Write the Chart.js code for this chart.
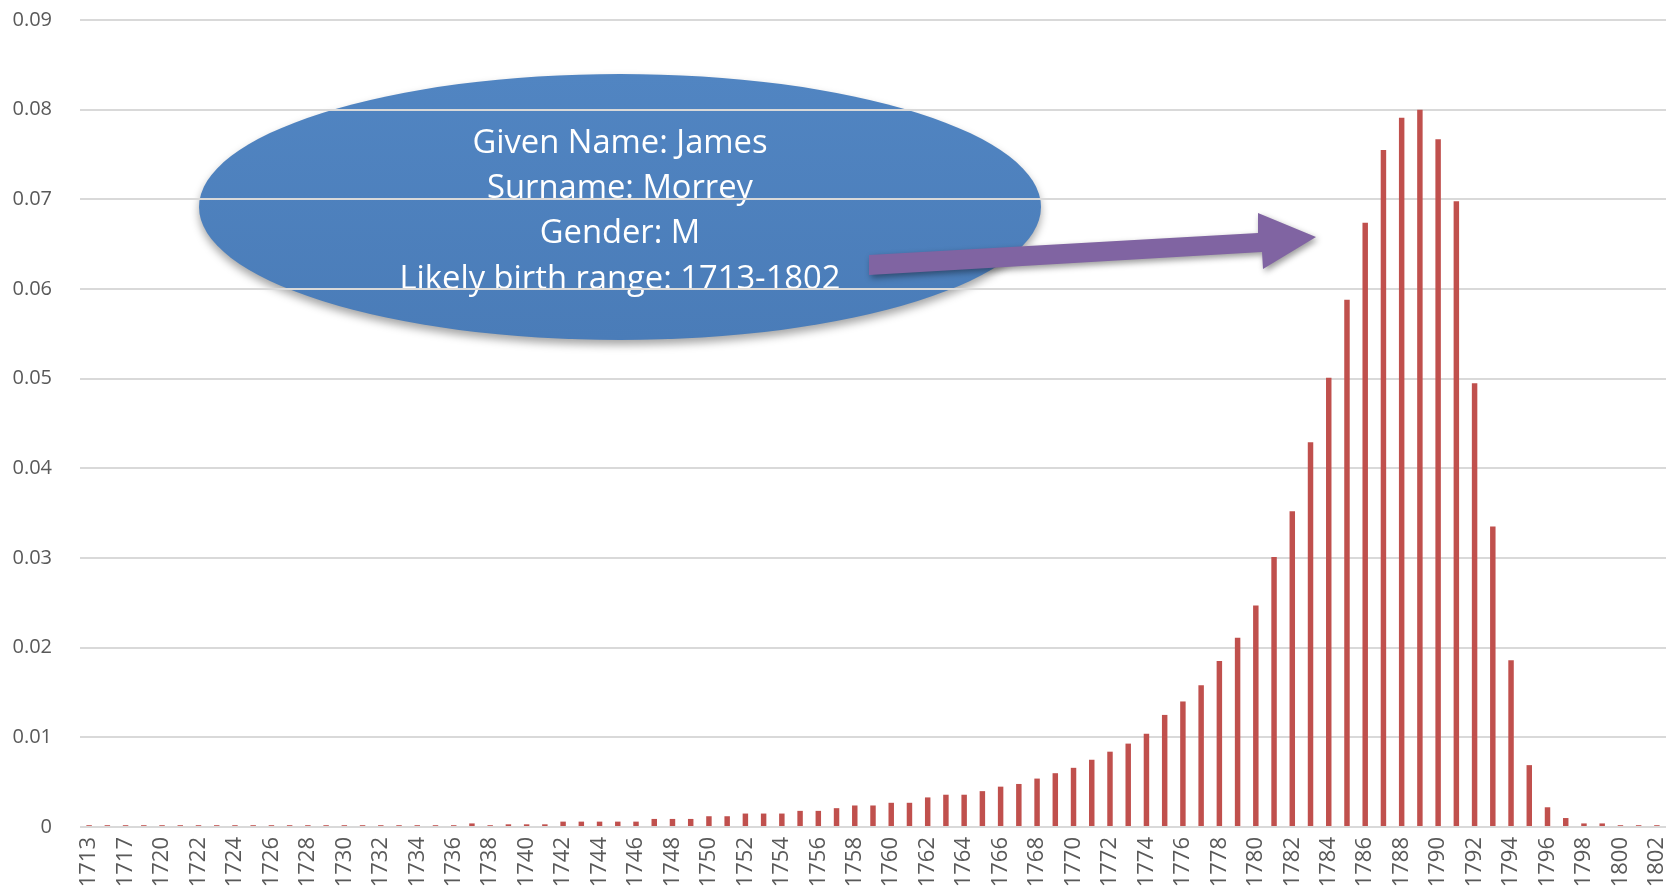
<!DOCTYPE html>
<html>
<head>
<meta charset="utf-8">
<script src="https://cdn.jsdelivr.net/npm/chart.js@4.4.1/dist/chart.umd.min.js"></script>
<style>
  html, body { margin: 0; padding: 0; background: #fff; overflow: hidden; }
  #wrap { width: 1666px; height: 892px; position: relative; }
</style>
</head>
<body>
<div id="wrap"><canvas id="birth-chart"></canvas></div>
<script>
// birth years (two early years are unlabelled in the source chart)
const years = [
  1713, 1715, 1717, 1719,
  1720, 1721, 1722, 1723, 1724, 1725, 1726, 1727, 1728, 1729,
  1730, 1731, 1732, 1733, 1734, 1735, 1736, 1737, 1738, 1739,
  1740, 1741, 1742, 1743, 1744, 1745, 1746, 1747, 1748, 1749,
  1750, 1751, 1752, 1753, 1754, 1755, 1756, 1757, 1758, 1759,
  1760, 1761, 1762, 1763, 1764, 1765, 1766, 1767, 1768, 1769,
  1770, 1771, 1772, 1773, 1774, 1775, 1776, 1777, 1778, 1779,
  1780, 1781, 1782, 1783, 1784, 1785, 1786, 1787, 1788, 1789,
  1790, 1791, 1792, 1793, 1794, 1795, 1796, 1797, 1798, 1799,
  1800, 1801, 1802
];

const probability = [
  0.0002, 0.0002, 0.0002, 0.0002,
  0.0002, 0.0002, 0.0002, 0.0002, 0.0002, 0.0002, 0.0002, 0.0002, 0.0002, 0.0002,
  0.0002, 0.0002, 0.0002, 0.0002, 0.0002, 0.0002, 0.0002, 0.0004, 0.0002, 0.0003,
  0.0003, 0.0003, 0.0006, 0.0006, 0.0006, 0.0006, 0.0006, 0.0009, 0.0009, 0.0009,
  0.0012, 0.0012, 0.0015, 0.0015, 0.0015, 0.0018, 0.0018, 0.0021, 0.0024, 0.0024,
  0.0027, 0.0027, 0.0033, 0.0036, 0.0036, 0.0040, 0.0045, 0.0048, 0.0054, 0.0060,
  0.0066, 0.0075, 0.0084, 0.0093, 0.0104, 0.0125, 0.0140, 0.0158, 0.0185, 0.0211,
  0.0247, 0.0301, 0.0352, 0.0429, 0.0501, 0.0588, 0.0674, 0.0755, 0.0791, 0.0800,
  0.0767, 0.0698, 0.0495, 0.0335, 0.0186, 0.0069, 0.0022, 0.0010, 0.0004, 0.0004,
  0.0002, 0.0002, 0.0002
];

const yTicks = [0, 0.01, 0.02, 0.03, 0.04, 0.05, 0.06, 0.07, 0.08, 0.09];

const calloutLines = [
  "Given Name: James",
  "Surname: Morrey",
  "Gender: M",
  "Likely birth range: 1713-1802"
];

// blue callout sits under the grid, so draw it first
const calloutPlugin = {
  id: "callout",
  beforeDraw(chart) {
    const ctx = chart.ctx;
    ctx.save();
    ctx.shadowColor = "rgba(0,0,0,0.35)";
    ctx.shadowBlur = 9;
    ctx.shadowOffsetY = 5;
    const grad = ctx.createLinearGradient(0, 74, 0, 340);
    grad.addColorStop(0, "#5185c2");
    grad.addColorStop(1, "#4a7cb8");
    ctx.fillStyle = grad;
    ctx.beginPath();
    ctx.ellipse(620, 207, 421, 133, 0, 0, Math.PI * 2);
    ctx.fill();
    ctx.restore();

    // text is narrow and tall in the original, so fit width then stretch
    ctx.save();
    ctx.fillStyle = "#ffffff";
    ctx.textAlign = "center";
    ctx.textBaseline = "middle";
    const family = "'Open Sans', sans-serif";
    let size = 33;
    ctx.font = size + "px " + family;
    const widest = Math.max(...calloutLines.map(l => ctx.measureText(l).width));
    if (widest > 441) size = size * 441 / widest;
    ctx.font = size + "px " + family;
    const stretch = Math.max(1, 21 / (0.714 * size));
    const rows = [144, 189, 234, 280];
    calloutLines.forEach((line, i) => {
      ctx.save();
      ctx.translate(620, rows[i]);
      ctx.scale(1, stretch);
      ctx.fillText(line, 0, 0);
      ctx.restore();
    });
    ctx.restore();
  },
  afterDraw(chart) {
    const ctx = chart.ctx;
    ctx.save();
    ctx.shadowColor = "rgba(0,0,0,0.4)";
    ctx.shadowBlur = 6;
    ctx.shadowOffsetX = 2;
    ctx.shadowOffsetY = 3;
    ctx.fillStyle = "#8064a2";
    ctx.beginPath();
    ctx.moveTo(869, 255);
    ctx.lineTo(1258, 233);
    ctx.lineTo(1258, 213);
    ctx.lineTo(1316, 237);
    ctx.lineTo(1263, 269);
    ctx.lineTo(1262, 252);
    ctx.lineTo(869, 275);
    ctx.closePath();
    ctx.fill();
    ctx.restore();
  }
};

const context = document.querySelector("#birth-chart").getContext("2d");
const chart = new Chart(context, {
  type: "bar",
  data: {
    labels: years.map(String),
    datasets: [{
      label: "Probability",
      data: probability,
      backgroundColor: "#c0504d",
      borderWidth: 0,
      barPercentage: 0.3,
      categoryPercentage: 1.0
    }]
  },
  options: {
    responsive: true,
    maintainAspectRatio: false,
    animation: false,
    layout: { padding: { top: 20, right: 0, left: 0, bottom: 0 } },
    plugins: {
      legend: { display: false },
      tooltip: { enabled: false }
    },
    scales: {
      x: {
        grid: { display: false, drawTicks: false },
        border: { display: false },
        ticks: {
          autoSkip: false,
          minRotation: 90,
          maxRotation: 90,
          padding: 10,
          color: "#595959",
          font: { family: "'Open Sans', sans-serif", size: 22 },
          callback: (v, i) => (i % 2 === 0 ? years[i] : "")
        },
        afterFit: scale => {
          scale.height = 65;
          scale.paddingLeft = 0;
          scale.paddingRight = 0;
        }
      },
      y: {
        min: 0,
        max: 0.09,
        afterBuildTicks: scale => { scale.ticks = yTicks.map(v => ({ value: v })); },
        grid: { color: "#d9d9d9", lineWidth: 2, drawTicks: false },
        border: { display: false },
        ticks: {
          padding: 28,
          color: "#595959",
          font: { family: "'Open Sans', sans-serif", size: 20 },
          callback: v => (v === 0 ? "0" : v.toFixed(2))
        },
        afterFit: scale => {
          scale.width = 80;
          scale.paddingTop = 0;
          scale.paddingBottom = 0;
        }
      }
    }
  },
  plugins: [calloutPlugin]
});
</script>
</body>
</html>
